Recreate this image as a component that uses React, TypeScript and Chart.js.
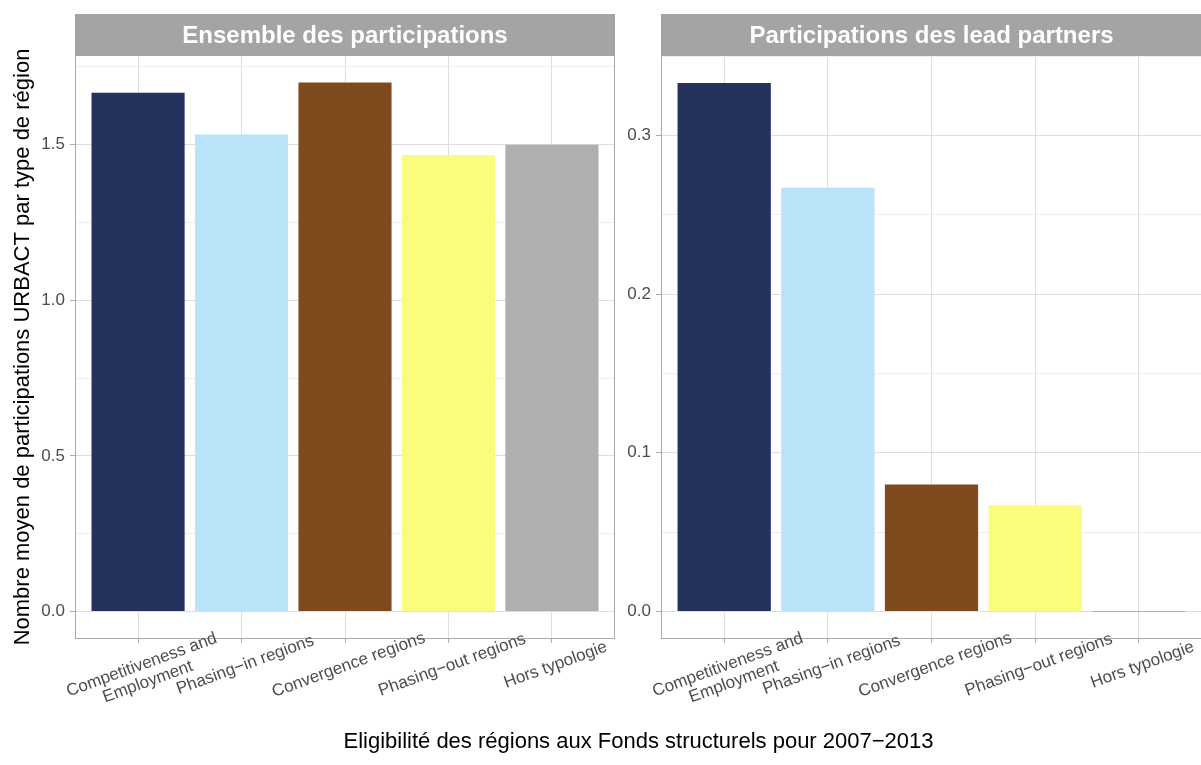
import React, { useEffect, useRef } from "react";
import { Chart, registerables } from "chart.js";

Chart.register(...registerables);

const FONT = '"Liberation Sans", Arial, Helvetica, sans-serif';

// ---- data ----
const categories: string[][] = [
  ["Competitiveness and", "Employment"],
  ["Phasing\u2212in regions"],
  ["Convergence regions"],
  ["Phasing\u2212out regions"],
  ["Hors typologie"],
];
const allParticipations = [1.667, 1.533, 1.7, 1.467, 1.5];
const leadPartnerParticipations = [0.333, 0.267, 0.08, 0.067, 0];
const barColors = ["#25325D", "#B8E3F8", "#804A1F", "#F9FC7C", "#AFAFAF"];

const leftMajorTicks = [0, 0.5, 1, 1.5];
const leftMajorLabels = ["0.0", "0.5", "1.0", "1.5"];
const leftMinorTicks = [0.25, 0.75, 1.25, 1.75];
const leftRange = [-0.085, 1.785];

const rightMajorTicks = [0, 0.1, 0.2, 0.3];
const rightMajorLabels = ["0.0", "0.1", "0.2", "0.3"];
const rightMinorTicks = [0.05, 0.15, 0.25, 0.35];
const rightRange = [-0.0167, 0.35];

const leftStrip = "Ensemble des participations";
const rightStrip = "Participations des lead partners";
const yTitle = "Nombre moyen de participations URBACT par type de région";
const xTitle = "Eligibilité des régions aux Fonds structurels pour 2007\u22122013";

const panelPlugin = (strip: string) => ({
  id: "panelDecor",
  afterDraw(chart: any) {
    const { ctx, chartArea: a } = chart;
    const xs = chart.scales.x;
    const L = Math.round(a.left);
    const R = Math.round(a.right);
    const T = Math.round(a.top);
    const B = Math.round(a.bottom);
    ctx.save();
    // panel border
    ctx.strokeStyle = "#ABABAB";
    ctx.lineWidth = 1;
    ctx.strokeRect(L - 0.5, T - 0.5, R - L + 1, B - T + 1);
    // strip
    ctx.fillStyle = "#A4A4A4";
    ctx.fillRect(L - 1, 14, R - L + 2, T - 14);
    ctx.fillStyle = "#FFFFFF";
    ctx.font = `bold 24px ${FONT}`;
    ctx.textAlign = "center";
    ctx.textBaseline = "alphabetic";
    ctx.fillText(strip, (L + R) / 2, 42.5);
    // rotated category labels
    ctx.fillStyle = "#4D4D4D";
    ctx.font = `17px ${FONT}`;
    categories.forEach((lines, i) => {
      const x = xs.getPixelForValue(i + 1);
      ctx.save();
      ctx.translate(x, 655);
      ctx.rotate((-20 * Math.PI) / 180);
      lines.forEach((ln, j) => ctx.fillText(ln, 0, 15.4 + j * 18));
      ctx.restore();
    });
    ctx.restore();
  },
});

function buildConfig(
  values: number[],
  range: number[],
  majors: number[],
  majorLabels: string[],
  minors: number[],
  strip: string,
  showTitle: boolean,
  yWidth: number,
  padRight: number,
  minBar: number
): any {
  return {
    type: "bar",
    data: {
      datasets: [
        {
          data: values.map((v, i) => ({ x: i + 1, y: v })),
          backgroundColor: barColors,
          borderWidth: 0,
          barPercentage: 0.9,
          categoryPercentage: 1,
          minBarLength: minBar,
        },
      ],
    },
    options: {
      responsive: false,
      animation: false,
      devicePixelRatio: 1,
      layout: { padding: { top: 56, right: padRight, bottom: 0, left: 0 } },
      plugins: {
        legend: { display: false },
        tooltip: { enabled: false },
        title: { display: false },
      },
      scales: {
        x: {
          type: "linear",
          min: 0.4,
          max: 5.6,
          offset: false,
          afterBuildTicks: (s: any) => {
            s.ticks = categories.map((_, i) => ({ value: i + 1 }));
          },
          afterFit: (s: any) => {
            s.height = 127;
          },
          ticks: { display: false, autoSkip: false },
          grid: {
            offset: false,
            color: "#DEDEDE",
            lineWidth: 1,
            drawTicks: true,
            tickLength: 5,
            tickColor: "#ABABAB",
          },
          border: { display: false },
        },
        y: {
          type: "linear",
          min: range[0],
          max: range[1],
          afterBuildTicks: (s: any) => {
            s.ticks = [...majors, ...minors]
              .sort((p, q) => p - q)
              .map((v) => ({ value: v }));
          },
          afterFit: (s: any) => {
            s.width = yWidth;
          },
          ticks: {
            autoSkip: false,
            padding: 5,
            color: "#4D4D4D",
            font: { size: 17, family: FONT },
            callback: (v: number) => {
              const k = majors.indexOf(v);
              return k >= 0 ? majorLabels[k] : "";
            },
          },
          grid: {
            lineWidth: 1,
            drawTicks: true,
            tickLength: 6,
            color: (c: any) =>
              c.tick && majors.includes(c.tick.value) ? "#DEDEDE" : "#EEEEEE",
            tickColor: (c: any) =>
              c.tick && majors.includes(c.tick.value) ? "#ABABAB" : "rgba(0,0,0,0)",
          },
          border: { display: false },
          title: {
            display: showTitle,
            text: yTitle,
            color: "#000000",
            font: { size: 22, family: FONT },
            padding: { top: 10, bottom: 0 },
          },
        },
      },
    },
    plugins: [panelPlugin(strip)],
  };
}

export default function App() {
  const leftRef = useRef<HTMLCanvasElement>(null);
  const rightRef = useRef<HTMLCanvasElement>(null);

  useEffect(() => {
    Chart.defaults.font.family = FONT;
    const c1 = new Chart(
      leftRef.current as HTMLCanvasElement,
      buildConfig(
        allParticipations,
        leftRange,
        leftMajorTicks,
        leftMajorLabels,
        leftMinorTicks,
        leftStrip,
        true,
        76,
        6,
        0
      )
    );
    const c2 = new Chart(
      rightRef.current as HTMLCanvasElement,
      buildConfig(
        leadPartnerParticipations,
        rightRange,
        rightMajorTicks,
        rightMajorLabels,
        rightMinorTicks,
        rightStrip,
        false,
        42,
        0,
        1
      )
    );
    return () => {
      c1.destroy();
      c2.destroy();
    };
  }, []);

  return (
    <div
      style={{
        position: "relative",
        width: 1201,
        height: 765,
        overflow: "hidden",
        background: "#FFFFFF",
        fontFamily: FONT,
      }}
    >
      <style>{"html,body{margin:0;padding:0;overflow:hidden;background:#fff}"}</style>
      <canvas
        ref={leftRef}
        width={620}
        height={765}
        style={{ position: "absolute", left: 0, top: 0, width: 620, height: 765 }}
      />
      <canvas
        ref={rightRef}
        width={581}
        height={765}
        style={{ position: "absolute", left: 620, top: 0, width: 581, height: 765 }}
      />
      <div
        style={{
          position: "absolute",
          left: 76,
          width: 1125,
          top: 730,
          fontSize: 22,
          lineHeight: "22px",
          textAlign: "center",
          color: "#000000",
          whiteSpace: "nowrap",
        }}
      >
        {xTitle}
      </div>
    </div>
  );
}
